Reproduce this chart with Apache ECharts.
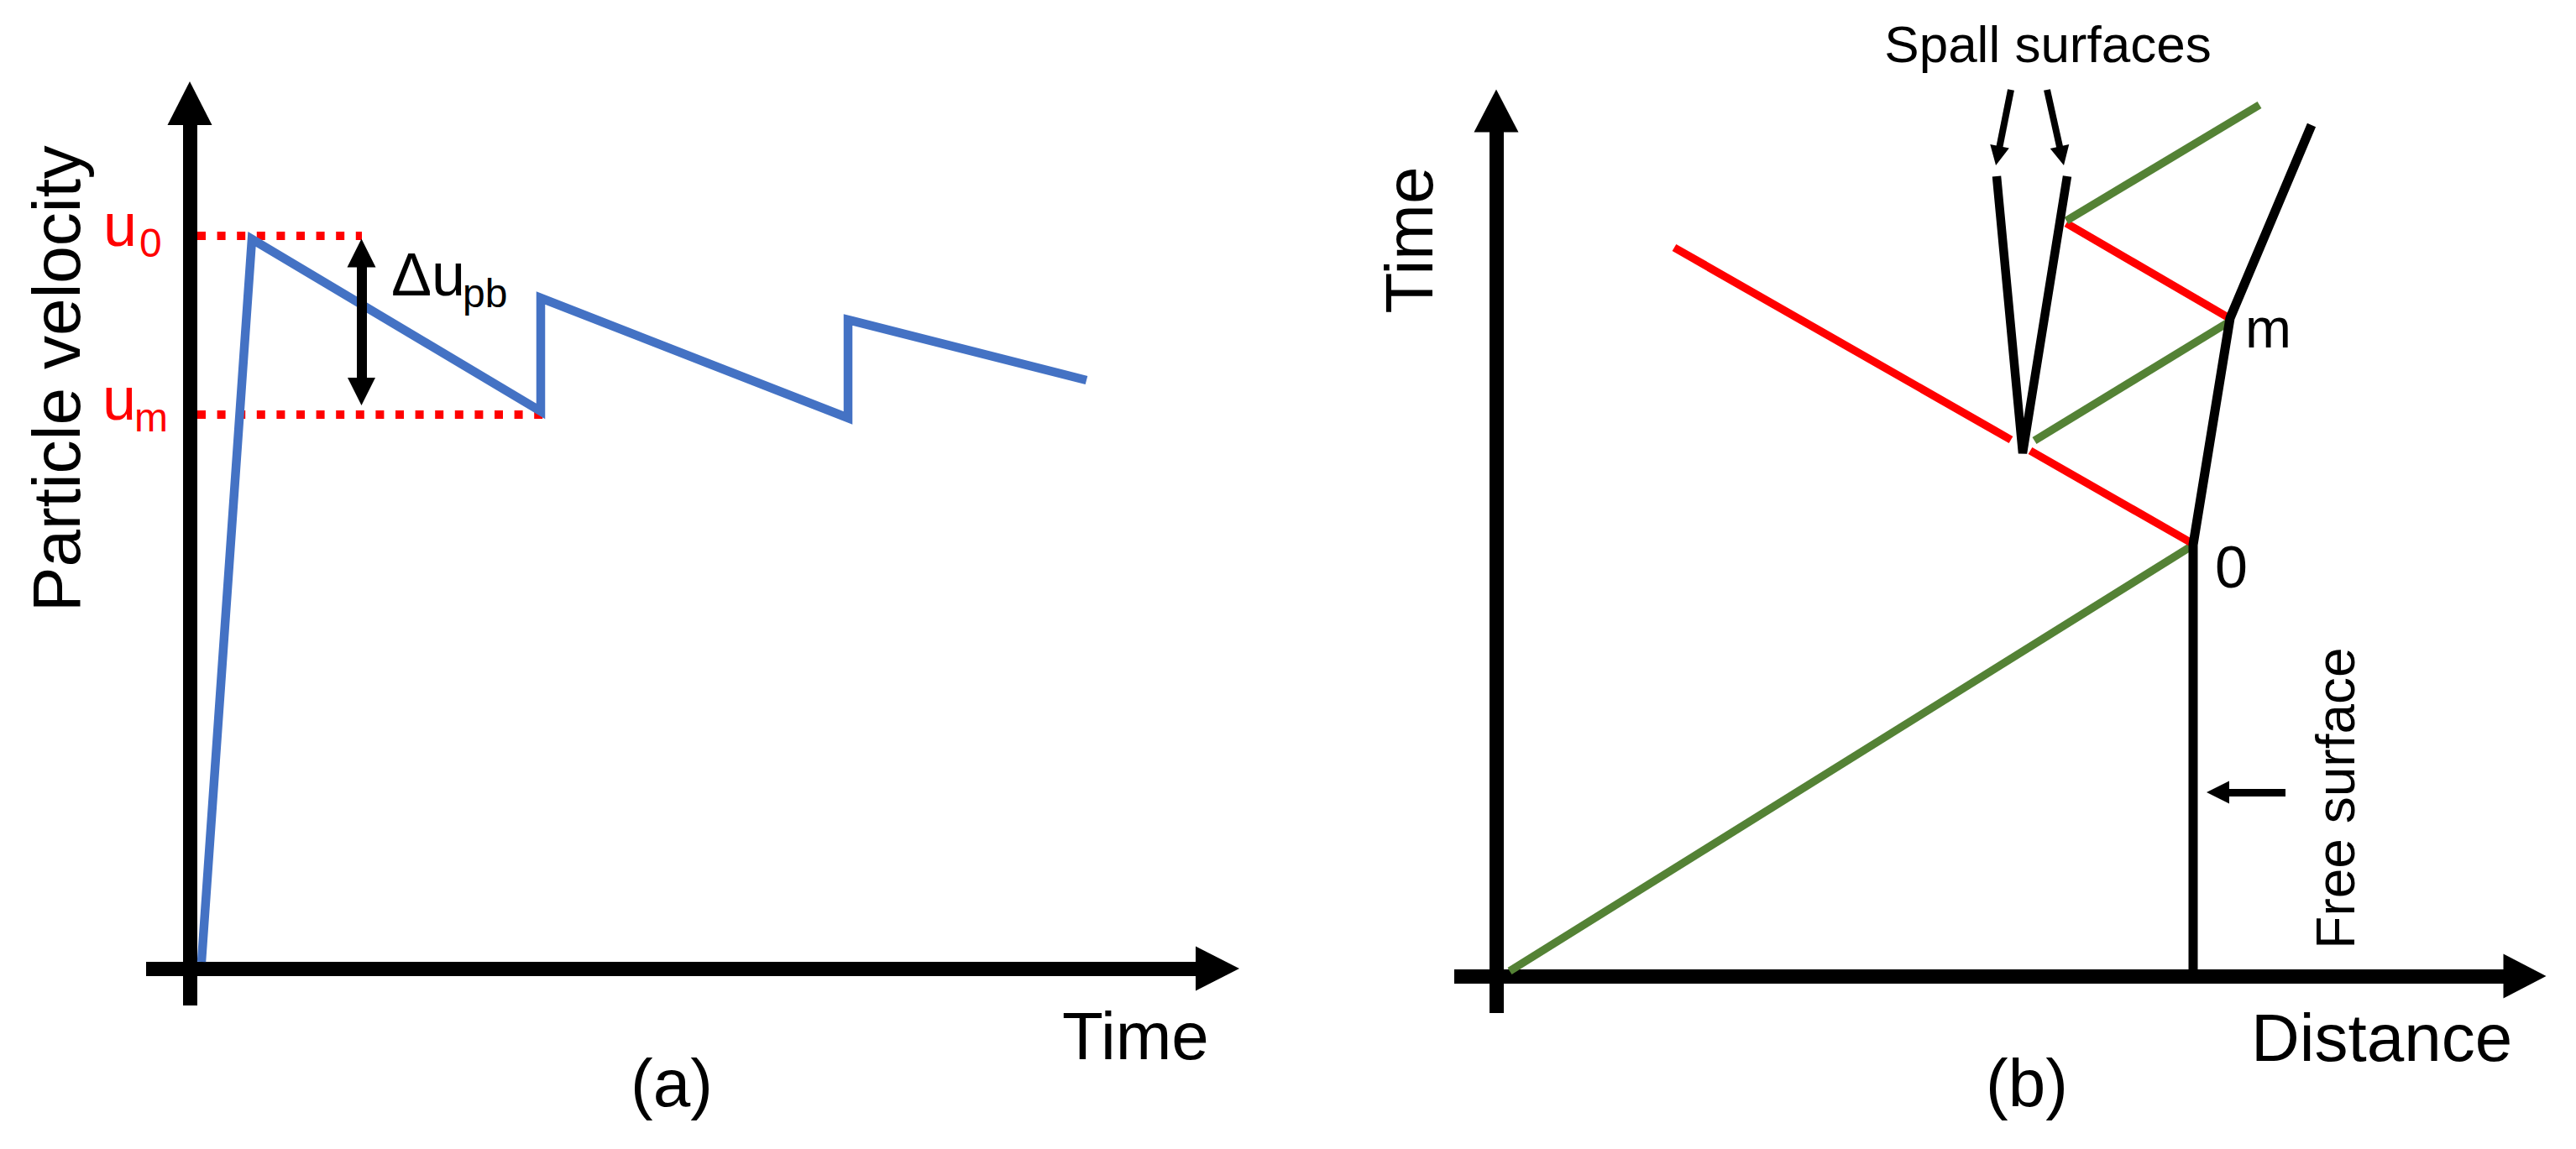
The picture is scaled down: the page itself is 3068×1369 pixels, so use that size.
<!DOCTYPE html>
<html>
<head>
<meta charset="utf-8">
<script src="https://cdn.jsdelivr.net/npm/echarts@6/dist/echarts.min.js"></script>
<style>
html,body{margin:0;padding:0;background:#ffffff;}
#chart{width:3068px;height:1369px;}
</style>
</head>
<body>
<div id="chart"></div>
<script>
// ---------- Panel (a): particle velocity vs time (arbitrary units) ----------
const velTime  = [1.4, 7.4, 41.8, 41.8, 78.4, 78.4, 106.8];
const velValue = [0.8, 86.9, 66.4, 79.9, 65.6, 77.3, 70.1];
const u0Level = 87.3;
const u0Span = [0.9, 20.5];
const umLevel = 66.0;
const umSpan = [0.9, 42.3];
const deltaArrowX = 20.45;
const deltaArrowEnds = [85.25, 68.75];

// ---------- Panel (b): distance-time diagram (arbitrary units) ----------
const freeSurface = [[83.0, 0], [83.0, 51.4], [87.4, 78.4], [97.1, 101.4]];
const greenWave1 = [[1.6, 0.6], [82.6, 51.1]];
const redWave1a = [[21.2, 86.8], [61.3, 63.9]];
const redWave1b = [[63.6, 62.6], [83.0, 51.5]];
const greenWave2 = [[64.1, 63.8], [87.2, 77.9]];
const redWave2 = [[87.3, 78.4], [67.9, 89.7]];
const greenWave3 = [[67.9, 90.0], [90.9, 103.8]];
const spallV = [[59.6, 95.3], [62.7, 62.3], [68.0, 95.3]];
const spallArrowL = [[61.3, 105.6], [59.73, 97.74]];
const spallArrowR = [[65.6, 105.6], [67.35, 97.72]];
const freeArrow = [[94.0, 21.9], [85.95, 21.9]];

const FONT = '"Liberation Sans", Arial, Helvetica, sans-serif';
const BLUE = '#4472C4', GREEN = '#548235', RED = '#FF0000', BLACK = '#000000';

function zip(xs, ys) { return xs.map((x, i) => [x, ys[i]]); }

function axisPair(gridIndex, xr, yr, arrowSize) {
  const common = {
    type: 'value', gridIndex: gridIndex,
    axisTick: {show: false}, axisLabel: {show: false}, splitLine: {show: false},
    axisLine: {show: true, onZero: true, symbol: ['none', 'triangle'], symbolSize: arrowSize,
               lineStyle: {color: BLACK, width: 17, cap: 'butt'}}
  };
  return [
    Object.assign({}, common, {min: xr[0], max: xr[1]}),
    Object.assign({}, common, {min: yr[0], max: yr[1]})
  ];
}
const axA = axisPair(0, [-5.2, 122.4], [-4.4, 103.1], [53, 52]);
const axB = axisPair(1, [-5.0, 122.5], [-4.4, 103.1], [53, 51]);

function seg(data, color, width, gi, extra) {
  return Object.assign({
    type: 'line', xAxisIndex: gi, yAxisIndex: gi, data: data,
    symbol: 'none', showSymbol: false, clip: false, z: 3,
    lineStyle: {color: color, width: width, cap: 'butt'}
  }, extra || {});
}
function arrow(coords, symbols, size, width, gi) {
  return {
    type: 'lines', coordinateSystem: 'cartesian2d', xAxisIndex: gi, yAxisIndex: gi,
    clip: false, z: 5, symbol: symbols, symbolSize: size,
    lineStyle: {color: BLACK, width: width, opacity: 1, curveness: 0},
    itemStyle: {color: BLACK},
    data: [{coords: coords}]
  };
}

const dotted = {color: RED, width: 10, type: [10, 13.6], cap: 'butt'};

const series = [
  // panel (a)
  seg([[u0Span[0], u0Level], [u0Span[1], u0Level]], RED, 10, 0, {lineStyle: dotted}),
  seg([[umSpan[0], umLevel], [umSpan[1], umLevel]], RED, 10, 0, {lineStyle: dotted}),
  seg(zip(velTime, velValue), BLUE, 10.5, 0, {lineStyle: {color: BLUE, width: 10.5, join: 'miter', cap: 'butt'}, z: 4}),
  arrow([[deltaArrowX, deltaArrowEnds[0]], [deltaArrowX, deltaArrowEnds[1]]], ['triangle', 'triangle'], [34, 33], 12, 0),
  // panel (b)
  seg(greenWave1, GREEN, 9.5, 1),
  seg(redWave1a, RED, 9.5, 1),
  seg(redWave1b, RED, 9.5, 1),
  seg(greenWave2, GREEN, 9.5, 1),
  seg(redWave2, RED, 9.5, 1),
  seg(greenWave3, GREEN, 9.5, 1),
  seg(freeSurface, BLACK, 11, 1, {z: 4}),
  seg(spallV, BLACK, 10.5, 1, {z: 4}),
  arrow(spallArrowL, ['none', 'triangle'], [25, 23], 8, 1),
  arrow(spallArrowR, ['none', 'triangle'], [25, 23], 8, 1),
  arrow(freeArrow, ['none', 'triangle'], [26, 27], 9, 1)
];

function txt(text, x, y, size, opts) {
  opts = opts || {};
  return {
    type: 'text', x: x, y: y, rotation: opts.rot || 0, z: 10,
    style: {text: text, fill: opts.color || BLACK, font: size + 'px ' + FONT,
            align: opts.align || 'left', verticalAlign: 'middle'}
  };
}

const graphics = [
  txt('Particle velocity', 67, 451, 80, {rot: Math.PI / 2, align: 'center'}),
  txt('u', 123, 268, 72, {color: RED}),
  txt('0', 166, 289, 48, {color: RED}),
  txt('u', 122, 475, 72, {color: RED}),
  txt('m', 160, 497, 48, {color: RED}),
  txt('\u0394u', 466, 327, 72),
  txt('pb', 551, 349, 48),
  txt('Time', 1265, 1234, 80),
  txt('(a)', 800, 1290, 80, {align: 'center'}),
  txt('Time', 1678, 286, 80, {rot: Math.PI / 2, align: 'center'}),
  txt('Spall surfaces', 2439, 52, 62, {align: 'center'}),
  txt('m', 2674, 391, 66),
  txt('0', 2638, 676, 70),
  txt('Free surface', 2782, 951, 64, {rot: Math.PI / 2, align: 'center'}),
  txt('Distance', 2681, 1236, 80),
  txt('(b)', 2414, 1290, 80, {align: 'center'})
];

const chart = echarts.init(document.getElementById('chart'), null, {renderer: 'svg', width: 3068, height: 1369});
chart.setOption({
  animation: false,
  backgroundColor: '#ffffff',
  grid: [
    {left: 174, top: 123, width: 1276, height: 1075},
    {left: 1732, top: 132, width: 1275, height: 1075}
  ],
  xAxis: [axA[0], axB[0]],
  yAxis: [axA[1], axB[1]],
  series: series,
  graphic: graphics
});
</script>
</body>
</html>
